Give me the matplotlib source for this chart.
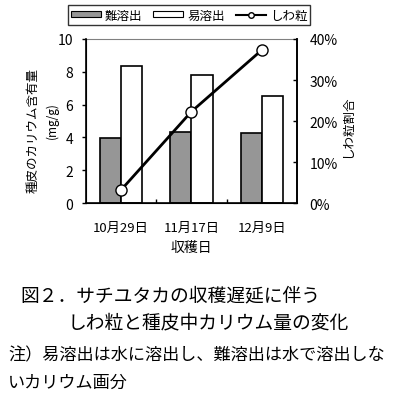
import matplotlib
matplotlib.use('Agg')
import matplotlib.pyplot as plt
from matplotlib.lines import Line2D
from matplotlib.patches import Patch
import numpy as np

plt.rcParams['font.family'] = ['Noto Sans CJK JP', 'DejaVu Sans']

# data
dates = ['10月29日', '11月17日', '12月9日']
nan_yoshutsu = [3.95, 4.3, 4.25]      # 難溶出 (mg/g)
i_yoshutsu = [8.35, 7.8, 6.55]        # 易溶出 (mg/g)
shiwa_pct = [3.2, 22.3, 37.3]         # しわ粒割合 (%)

fig = plt.figure(figsize=(3.98, 4.02), dpi=100)
ax = fig.add_axes([0.216, 0.4925, 0.53, 0.408])
x = np.arange(len(dates))
w = 0.3
ax.bar(x - w/2, nan_yoshutsu, w, color='#969696', edgecolor='black', linewidth=1.2)
ax.bar(x + w/2, i_yoshutsu, w, color='white', edgecolor='black', linewidth=1.2)
ax.set_xlim(-0.5, 2.5)
ax.set_ylim(0, 10)
ax.set_yticks([0, 2, 4, 6, 8, 10])
ax.set_xticks(x)
ax.set_xticklabels(dates, fontsize=9.5)
ax.set_xticks([0.5, 1.5], minor=True)
ax.tick_params(axis='x', which='major', length=0, pad=13)
ax.tick_params(axis='x', which='minor', direction='in', length=3, width=1)
ax.tick_params(axis='y', direction='out', length=3, width=1, labelsize=10, pad=6)
ax.spines['top'].set_color('#808080')
for s in ['left', 'bottom', 'right']:
    ax.spines[s].set_linewidth(1.2)
ax.set_xlabel('収穫日', fontsize=10, labelpad=4)

ax2 = ax.twinx()
ax2.plot(x, shiwa_pct, color='black', linewidth=2, marker='o', markersize=8,
         markerfacecolor='white', markeredgecolor='black', markeredgewidth=1)
ax2.set_ylim(0, 40)
ax2.set_yticks([0, 10, 20, 30, 40])
ax2.set_yticklabels(['0%', '10%', '20%', '30%', '40%'])
ax2.tick_params(axis='y', direction='in', length=3, width=1, labelsize=10, pad=9)
ax2.spines['top'].set_visible(False)
ax2.spines['right'].set_linewidth(1.2)

fig.text(0.083, 0.676, '種皮のカリウム含有量', rotation=90, fontsize=9,
         ha='center', va='center')
fig.text(0.13, 0.70, '(mg/g)', rotation=90, fontsize=8.5, ha='center', va='center')
fig.text(0.872, 0.685, 'しわ粒割合', rotation=90, fontsize=9, ha='center', va='center')

handles = [Patch(facecolor='#969696', edgecolor='black', linewidth=0.8),
           Patch(facecolor='white', edgecolor='black', linewidth=0.8),
           Line2D([], [], color='black', linewidth=1.5, marker='o', markersize=4,
                  markerfacecolor='white', markeredgecolor='black')]
leg = fig.legend(handles, ['難溶出', '易溶出', 'しわ粒'], ncol=3, fontsize=9,
                 loc='center', bbox_to_anchor=(0.475, 0.96), frameon=True,
                 fancybox=False, handlelength=2.4, handleheight=0.35,
                 columnspacing=0.9, handletextpad=0.3, borderpad=0.25,
                 borderaxespad=0)
leg.get_frame().set_edgecolor('black')
leg.get_frame().set_linewidth(1)

fig.text(0.05, 0.265, '図２．サチユタカの収穫遅延に伴う', fontsize=13.5, va='center')
fig.text(0.17, 0.196, 'しわ粒と種皮中カリウム量の変化', fontsize=13.5, va='center')
fig.text(0.02, 0.117, '注）易溶出は水に溶出し、難溶出は水で溶出しな', fontsize=12.3, va='center')
fig.text(0.02, 0.047, 'いカリウム画分', fontsize=12.3, va='center')

fig.savefig('out.png', dpi=100)
